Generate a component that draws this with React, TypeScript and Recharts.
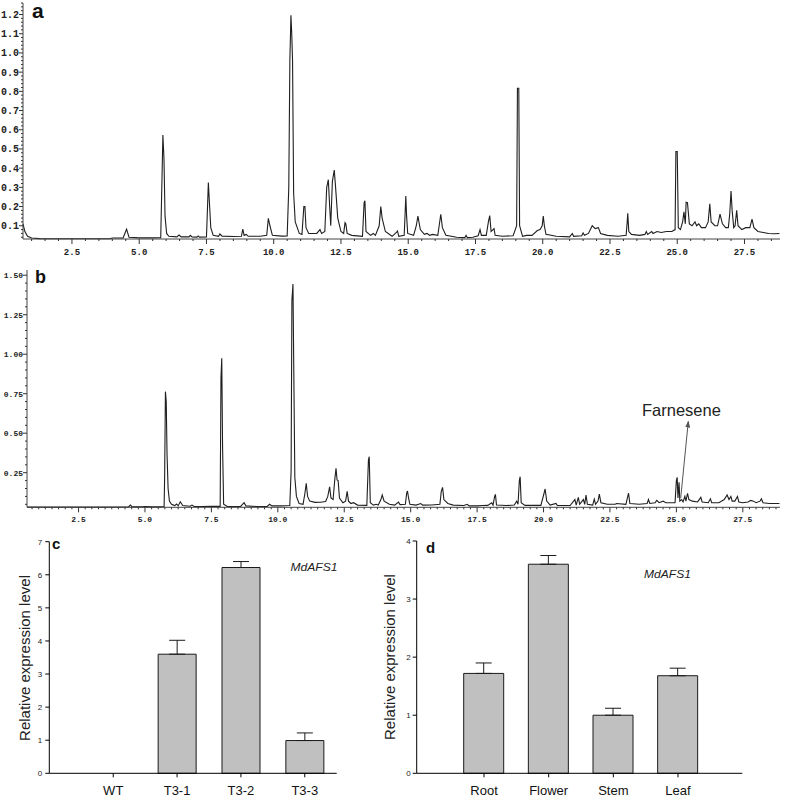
import { Bar, BarChart, ErrorBar, Line, LineChart, XAxis, YAxis } from "recharts";

// chromatogram traces: [retention time (min), abundance]
const aTrace: [number, number][] = [
  [0.68, 0.11], [0.75, 0.07], [0.85, 0.045], [1.0, 0.036], [1.3, 0.033], [2.0, 0.032], [3.0, 0.032], [3.9, 0.032],
  [4.0, 0.036], [4.4, 0.037], [4.53, 0.082], [4.62, 0.04], [5.0, 0.037], [5.5, 0.037], [5.8, 0.038],
  [5.84, 0.3], [5.88, 0.573], [5.92, 0.45], [5.96, 0.15], [6.02, 0.06], [6.1, 0.045], [6.4, 0.042], [6.48, 0.052],
  [6.56, 0.042], [6.85, 0.042], [6.9, 0.05], [6.96, 0.042], [7.15, 0.041], [7.19, 0.047], [7.24, 0.041], [7.5, 0.042],
  [7.54, 0.2], [7.57, 0.325], [7.61, 0.22], [7.66, 0.09], [7.75, 0.05], [7.95, 0.045], [8.0, 0.057], [8.08, 0.046],
  [8.5, 0.044], [8.8, 0.045], [8.85, 0.082], [8.9, 0.05], [8.98, 0.055], [9.05, 0.045], [9.5, 0.045],
  [9.74, 0.05], [9.8, 0.139], [9.86, 0.1], [9.95, 0.05], [10.3, 0.046], [10.5, 0.047],
  [10.56, 0.3], [10.6, 0.96], [10.64, 1.196], [10.67, 1.1], [10.7, 0.96], [10.74, 0.27], [10.8, 0.12], [10.95, 0.06],
  [11.05, 0.055], [11.12, 0.2], [11.16, 0.2], [11.2, 0.09], [11.3, 0.06], [11.6, 0.06], [11.72, 0.08], [11.78, 0.06],
  [11.9, 0.07], [11.97, 0.3], [12.03, 0.34], [12.08, 0.2], [12.12, 0.1], [12.18, 0.33], [12.25, 0.39], [12.3, 0.3],
  [12.38, 0.14], [12.5, 0.07], [12.6, 0.06], [12.65, 0.116], [12.68, 0.11], [12.73, 0.06], [12.9, 0.05], [13.3, 0.045],
  [13.36, 0.22], [13.39, 0.23], [13.43, 0.07], [13.6, 0.05], [13.7, 0.06], [13.78, 0.05], [13.92, 0.1], [13.98, 0.2],
  [14.03, 0.14], [14.15, 0.07], [14.4, 0.045], [14.56, 0.065], [14.6, 0.073], [14.65, 0.045], [14.85, 0.05],
  [14.88, 0.15], [14.91, 0.255], [14.94, 0.15], [14.98, 0.06], [15.2, 0.05], [15.3, 0.1], [15.36, 0.15], [15.45, 0.08],
  [15.6, 0.055], [15.7, 0.06], [15.8, 0.05], [15.9, 0.055], [16.1, 0.05], [16.15, 0.1], [16.21, 0.16], [16.27, 0.09],
  [16.4, 0.05], [16.8, 0.04], [17.1, 0.038], [17.15, 0.05], [17.2, 0.038], [17.4, 0.04], [17.6, 0.048], [17.67, 0.08],
  [17.72, 0.05], [17.9, 0.05], [17.98, 0.12], [18.03, 0.153], [18.08, 0.07], [18.15, 0.08], [18.19, 0.085], [18.23, 0.05],
  [18.5, 0.045], [18.9, 0.048], [19.03, 0.1], [19.06, 0.816], [19.11, 0.816], [19.14, 0.1], [19.25, 0.045], [19.4, 0.05],
  [19.6, 0.05], [19.8, 0.075], [19.9, 0.08], [19.98, 0.1], [20.02, 0.151], [20.06, 0.1], [20.12, 0.055], [20.5, 0.045],
  [21.0, 0.042], [21.1, 0.06], [21.15, 0.045], [21.45, 0.048], [21.5, 0.063], [21.55, 0.05], [21.7, 0.06], [21.84, 0.1],
  [21.95, 0.085], [22.07, 0.09], [22.15, 0.06], [22.4, 0.05], [22.8, 0.045], [23.1, 0.05], [23.14, 0.12], [23.16, 0.165],
  [23.2, 0.07], [23.3, 0.055], [23.6, 0.05], [23.8, 0.055], [23.85, 0.07], [23.9, 0.055], [24.05, 0.07], [24.1, 0.06],
  [24.25, 0.07], [24.4, 0.065], [24.6, 0.07], [24.8, 0.07], [24.92, 0.08], [24.95, 0.486], [25.0, 0.486], [25.04, 0.09],
  [25.12, 0.08], [25.2, 0.12], [25.25, 0.172], [25.3, 0.11], [25.33, 0.222], [25.38, 0.22], [25.45, 0.11], [25.55, 0.1],
  [25.66, 0.12], [25.72, 0.1], [25.8, 0.11], [25.9, 0.09], [26.05, 0.09], [26.15, 0.12], [26.21, 0.214], [26.26, 0.12],
  [26.4, 0.1], [26.5, 0.1], [26.59, 0.16], [26.68, 0.11], [26.8, 0.09], [26.9, 0.09], [26.95, 0.16], [27.0, 0.281],
  [27.04, 0.18], [27.1, 0.09], [27.15, 0.1], [27.21, 0.18], [27.26, 0.1], [27.4, 0.08], [27.55, 0.09], [27.7, 0.09],
  [27.78, 0.134], [27.85, 0.09], [28.0, 0.07], [28.2, 0.065], [28.4, 0.06], [28.6, 0.058], [28.8, 0.06],
];

const bTrace: [number, number][] = [
  [0.56, 0.032], [2.0, 0.032], [4.0, 0.032], [4.38, 0.033], [4.45, 0.045], [4.52, 0.034], [4.9, 0.034], [5.0, 0.035],
  [5.3, 0.034], [5.6, 0.034], [5.72, 0.036], [5.74, 0.22], [5.77, 0.763], [5.8, 0.7], [5.83, 0.37], [5.87, 0.15],
  [5.92, 0.07], [6.0, 0.05], [6.12, 0.042], [6.19, 0.052], [6.25, 0.04], [6.33, 0.066], [6.42, 0.042], [6.7, 0.038],
  [6.77, 0.045], [6.85, 0.036], [7.1, 0.036], [7.5, 0.037], [7.83, 0.037], [7.86, 0.85], [7.89, 0.974], [7.92, 0.42],
  [7.96, 0.05], [8.1, 0.036], [8.6, 0.037], [8.73, 0.06], [8.8, 0.04], [9.2, 0.036], [9.6, 0.037], [9.69, 0.05],
  [9.78, 0.04], [10.1, 0.04], [10.45, 0.042], [10.5, 0.26], [10.53, 1.34], [10.57, 1.444], [10.6, 0.91], [10.64, 0.22],
  [10.7, 0.1], [10.8, 0.055], [10.95, 0.05], [11.02, 0.12], [11.07, 0.183], [11.12, 0.1], [11.2, 0.07], [11.4, 0.062],
  [11.6, 0.063], [11.8, 0.068], [11.88, 0.1], [11.95, 0.161], [12.0, 0.09], [12.08, 0.08], [12.14, 0.2], [12.19, 0.278],
  [12.23, 0.204], [12.27, 0.2], [12.32, 0.09], [12.45, 0.06], [12.55, 0.07], [12.61, 0.132], [12.66, 0.07], [12.75, 0.055],
  [12.85, 0.06], [13.0, 0.045], [13.35, 0.043], [13.41, 0.33], [13.44, 0.351], [13.48, 0.06], [13.6, 0.045], [13.7, 0.05],
  [13.78, 0.045], [13.88, 0.08], [13.93, 0.109], [14.0, 0.07], [14.2, 0.05], [14.4, 0.045], [14.54, 0.064], [14.6, 0.048],
  [14.8, 0.05], [14.85, 0.12], [14.88, 0.134], [14.92, 0.09], [14.97, 0.05], [15.2, 0.045], [15.38, 0.055], [15.45, 0.045],
  [15.8, 0.046], [16.1, 0.05], [16.15, 0.13], [16.2, 0.157], [16.25, 0.08], [16.4, 0.055], [16.6, 0.045], [17.0, 0.042],
  [17.13, 0.05], [17.2, 0.04], [17.5, 0.04], [17.7, 0.042], [17.9, 0.043], [18.05, 0.06], [18.1, 0.045], [18.16, 0.1],
  [18.19, 0.113], [18.23, 0.045], [18.6, 0.042], [18.9, 0.045], [18.99, 0.07], [19.04, 0.05], [19.09, 0.2], [19.12, 0.225],
  [19.16, 0.06], [19.3, 0.043], [19.9, 0.043], [20.02, 0.12], [20.06, 0.147], [20.12, 0.07], [20.25, 0.045], [20.47, 0.055],
  [20.52, 0.042], [21.0, 0.042], [21.18, 0.08], [21.23, 0.045], [21.31, 0.094], [21.36, 0.05], [21.5, 0.08], [21.55, 0.05],
  [21.6, 0.109], [21.65, 0.05], [21.85, 0.045], [21.91, 0.083], [21.96, 0.05], [22.05, 0.07], [22.1, 0.115], [22.16, 0.06],
  [22.4, 0.05], [22.7, 0.05], [22.75, 0.055], [23.1, 0.05], [23.17, 0.1], [23.2, 0.12], [23.25, 0.055], [23.6, 0.05],
  [23.9, 0.055], [23.95, 0.08], [24.0, 0.055], [24.2, 0.06], [24.26, 0.075], [24.35, 0.06], [24.5, 0.07], [24.6, 0.06],
  [24.95, 0.06], [25.0, 0.2], [25.03, 0.221], [25.06, 0.09], [25.1, 0.19], [25.13, 0.07], [25.2, 0.08], [25.25, 0.065],
  [25.32, 0.1], [25.36, 0.07], [25.42, 0.12], [25.47, 0.08], [25.6, 0.07], [25.8, 0.065], [25.92, 0.094], [25.97, 0.065],
  [26.2, 0.06], [26.28, 0.085], [26.33, 0.06], [26.6, 0.06], [26.8, 0.08], [26.91, 0.109], [26.98, 0.08], [27.05, 0.1],
  [27.1, 0.07], [27.2, 0.07], [27.3, 0.1], [27.35, 0.065], [27.5, 0.06], [27.7, 0.065], [27.8, 0.075], [27.9, 0.07],
  [28.0, 0.06], [28.15, 0.07], [28.2, 0.085], [28.26, 0.06], [28.5, 0.055], [28.7, 0.055], [28.88, 0.055],
];

const timeLabels = [2.5, 5, 7.5, 10, 12.5, 15, 17.5, 20, 22.5, 25, 27.5];
const aYLabels = [0.1, 0.2, 0.3, 0.4, 0.5, 0.6, 0.7, 0.8, 0.9, 1.0, 1.1, 1.2];
const bYLabels = [0.25, 0.5, 0.75, 1.0, 1.25, 1.5];

const cCategories = ["WT", "T3-1", "T3-2", "T3-3"];
const cValues = [0, 3.6, 6.22, 0.99];
const cErrors = [0, 0.42, 0.18, 0.23];
const cYTicks = [0, 1, 2, 3, 4, 5, 6, 7];

const dCategories = ["Root", "Flower", "Stem", "Leaf"];
const dValues = [1.72, 3.6, 1.0, 1.68];
const dErrors = [0.18, 0.15, 0.12, 0.13];
const dYTicks = [0, 1, 2, 3, 4];

const aData = aTrace.map(([t, v]) => ({ t, v }));
const bData = bTrace.map(([t, v]) => ({ t, v }));
const cData = cCategories.map((name, i) => ({ name, value: cValues[i], err: [0, cErrors[i]] }));
const dData = dCategories.map((name, i) => ({ name, value: dValues[i], err: [0, dErrors[i]] }));

// minor tick positions along an axis (majors are included)
function steps(from: number, to: number, step: number) {
  const out: number[] = [];
  for (let k = Math.ceil(from / step - 1e-9); k * step <= to + 1e-9; k++) {
    out.push(Math.round(k * step * 1000) / 1000);
  }
  return out;
}

const isIn = (list: number[], v: number) => list.some((m) => Math.abs(m - v) < 1e-6);

const MONO = "'Liberation Mono', 'DejaVu Sans Mono', monospace";

function xTick(majors: number[], fontSize: number, dy: number) {
  return (props: any) => {
    const { x, y, payload } = props;
    const major = isIn(majors, payload.value);
    return (
      <g>
        <line x1={x} x2={x} y1={y} y2={y + (major ? 5 : 2)} stroke="#333" />
        {major ? (
          <text x={x} y={y + dy} textAnchor="middle" fontFamily={MONO} fontWeight={700} fontSize={fontSize} fill="#222">
            {payload.value.toFixed(1)}
          </text>
        ) : null}
      </g>
    );
  };
}

function yTick(majors: number[], fontSize: number, digits: number) {
  return (props: any) => {
    const { x, y, payload } = props;
    const major = isIn(majors, payload.value);
    return (
      <g>
        <line x1={x - (major ? 4 : 2)} x2={x} y1={y} y2={y} stroke="#333" />
        {major ? (
          <text x={x - 4} y={y + fontSize * 0.35} textAnchor="end" fontFamily={MONO} fontWeight={700} fontSize={fontSize} fill="#222">
            {payload.value.toFixed(digits)}
          </text>
        ) : null}
      </g>
    );
  };
}

const aX: [number, number] = [0.68, 28.82];
const aY: [number, number] = [0.031, 1.26];
const bX: [number, number] = [0.56, 28.9];
const bY: [number, number] = [0.031, 1.533];

const barTick = { fontSize: 13, fill: "#111", fontFamily: "'Liberation Sans', Arial, sans-serif" };
const valTick = { fontSize: 8, fill: "#222", fontFamily: "'Liberation Sans', Arial, sans-serif" };

export default function App() {
  return (
    <div
      style={{
        position: "absolute",
        left: 0,
        top: 0,
        width: 787,
        height: 797,
        background: "#fff",
        fontFamily: "'Liberation Sans', Arial, sans-serif",
        overflow: "hidden",
      }}
    >
      {/* a */}
      <div style={{ position: "absolute", left: 0, top: 0 }}>
        <LineChart width={787} height={265} data={aData} margin={{ top: 3, right: 7, bottom: 0, left: 0 }}>
          <XAxis
            dataKey="t"
            type="number"
            domain={aX}
            ticks={steps(1, 28.5, 0.5)}
            interval={0}
            height={26}
            tickSize={0}
            tickMargin={0}
            tickLine={false}
            stroke="#444"
            tick={xTick(timeLabels, 9, 16)}
          />
          <YAxis
            type="number"
            domain={aY}
            ticks={steps(0.04, 1.26, 0.02)}
            interval={0}
            width={23}
            tickSize={0}
            tickMargin={0}
            tickLine={false}
            stroke="#444"
            tick={yTick(aYLabels, 10, 1)}
          />
          <Line type="linear" dataKey="v" stroke="#1f1f1f" strokeWidth={1.1} dot={false} isAnimationActive={false} />
        </LineChart>
      </div>

      {/* b */}
      <div style={{ position: "absolute", left: 0, top: 265 }}>
        <LineChart width={787} height={265} data={bData} margin={{ top: 5, right: 7, bottom: 0, left: 0 }}>
          <XAxis
            dataKey="t"
            type="number"
            domain={bX}
            ticks={steps(0.75, 28.75, 0.25)}
            interval={0}
            height={22.7}
            tickSize={0}
            tickMargin={0}
            tickLine={false}
            stroke="#444"
            tick={xTick(timeLabels, 8, 15)}
          />
          <YAxis
            type="number"
            domain={bY}
            ticks={steps(0.05, 1.5, 0.05)}
            interval={0}
            width={27}
            tickSize={0}
            tickMargin={0}
            tickLine={false}
            stroke="#444"
            tick={yTick(bYLabels, 8, 2)}
          />
          <Line type="linear" dataKey="v" stroke="#1f1f1f" strokeWidth={1.1} dot={false} isAnimationActive={false} />
        </LineChart>
      </div>

      {/* c */}
      <div style={{ position: "absolute", left: 0, top: 530 }}>
        <BarChart width={394} height={267} data={cData} margin={{ top: 11.7, right: 57.3, bottom: 0, left: 0 }}>
          <XAxis
            dataKey="name"
            height={23.7}
            padding={{ left: 32, right: 0 }}
            interval={0}
            tickSize={4}
            tickMargin={8}
            stroke="#000"
            tick={barTick}
          />
          <YAxis
            type="number"
            domain={[0, 7]}
            ticks={cYTicks}
            interval={0}
            width={49.3}
            tickSize={4}
            tickMargin={3}
            stroke="#000"
            tick={valTick}
          />
          <Bar dataKey="value" barSize={38} fill="#c0c0c0" stroke="#1a1a1a" strokeWidth={1} isAnimationActive={false}>
            <ErrorBar dataKey="err" width={8} stroke="#1a1a1a" strokeWidth={1} direction="y" isAnimationActive={false} />
          </Bar>
        </BarChart>
      </div>

      {/* d */}
      <div style={{ position: "absolute", left: 360, top: 530 }}>
        <BarChart width={427} height={267} data={dData} margin={{ top: 11, right: 44.7, bottom: 0, left: 0 }}>
          <XAxis
            dataKey="name"
            height={23.7}
            padding={{ left: 35, right: 32 }}
            interval={0}
            tickSize={4}
            tickMargin={8}
            stroke="#000"
            tick={barTick}
          />
          <YAxis
            type="number"
            domain={[0, 4]}
            ticks={dYTicks}
            interval={0}
            width={56.7}
            tickSize={4}
            tickMargin={2}
            stroke="#000"
            tick={valTick}
          />
          <Bar dataKey="value" barSize={40} fill="#c0c0c0" stroke="#1a1a1a" strokeWidth={1} isAnimationActive={false}>
            <ErrorBar dataKey="err" width={8} stroke="#1a1a1a" strokeWidth={1} direction="y" isAnimationActive={false} />
          </Bar>
        </BarChart>
      </div>

      {/* panel letters and annotations */}
      <svg width={787} height={797} style={{ position: "absolute", left: 0, top: 0, pointerEvents: "none" }}>
        <defs>
          <marker id="arrowHead" markerWidth="7" markerHeight="6" refX="6" refY="3" orient="auto" markerUnits="userSpaceOnUse">
            <path d="M0,0.5 L7,3 L0,5.5 z" fill="#555" />
          </marker>
        </defs>
        <text x={32} y={18} fontSize={21} fontWeight={700} fill="#111">a</text>
        <text x={35} y={283} fontSize={18} fontWeight={700} fill="#111">b</text>
        <text x={52} y={549} fontSize={15} fontWeight={700} fill="#111">c</text>
        <text x={426} y={553} fontSize={15} fontWeight={700} fill="#111">d</text>

        <text x={642} y={416} fontSize={16.5} fill="#222">Farnesene</text>
        <line x1={680.7} y1={498} x2={688.3} y2={421.5} stroke="#555" strokeWidth={1} markerEnd="url(#arrowHead)" />

        <text x={314} y={571} fontSize={11.5} fontStyle="italic" fill="#222" textAnchor="middle" textLength={47} lengthAdjust="spacingAndGlyphs">
          MdAFS1
        </text>
        <text x={667.5} y={578} fontSize={11.5} fontStyle="italic" fill="#222" textAnchor="middle" textLength={47} lengthAdjust="spacingAndGlyphs">
          MdAFS1
        </text>

        <text x={30} y={658} fontSize={15} fill="#222" textAnchor="middle" transform="rotate(-90 30 658)">
          Relative expression level
        </text>
        <text x={395} y={657} fontSize={15} fill="#222" textAnchor="middle" transform="rotate(-90 395 657)">
          Relative expression level
        </text>
      </svg>
    </div>
  );
}
